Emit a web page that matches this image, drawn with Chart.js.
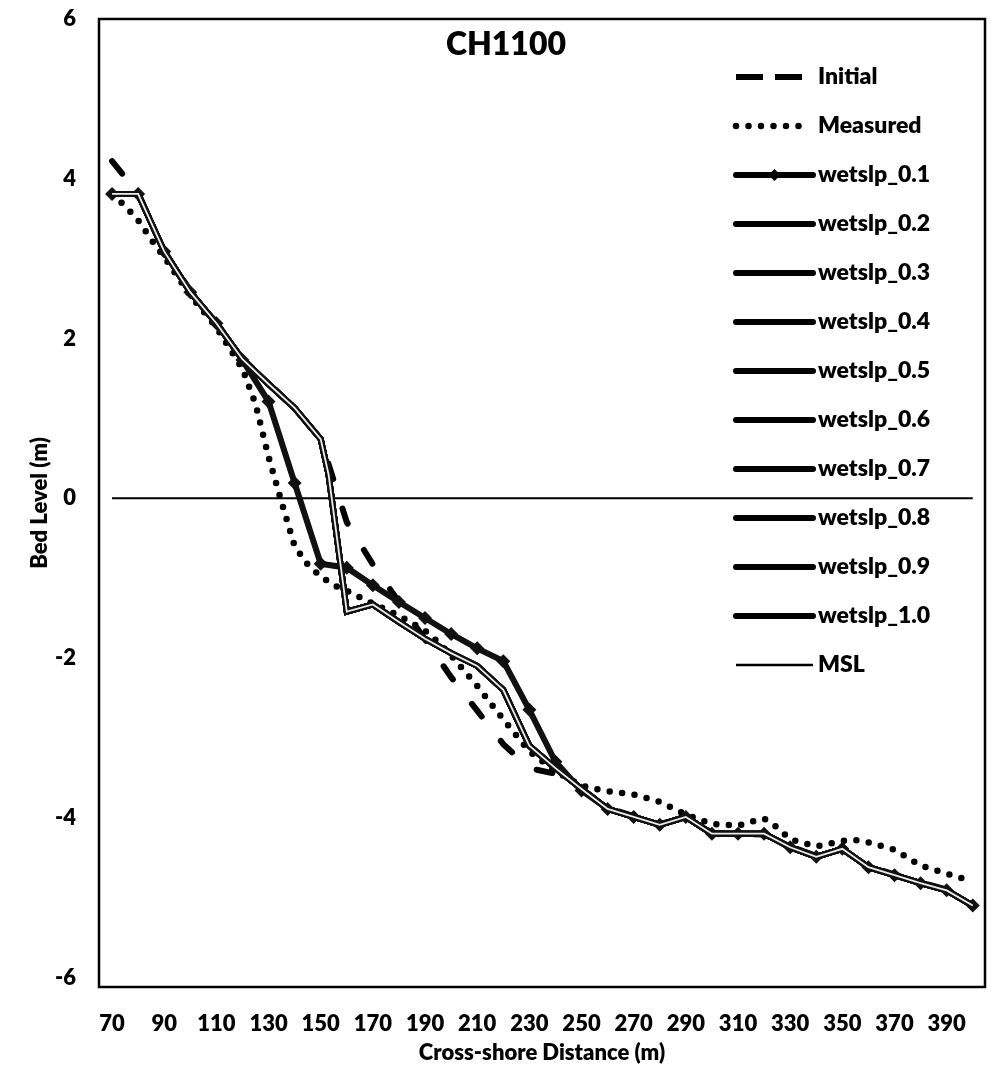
<!DOCTYPE html>
<html>
<head>
<meta charset="utf-8">
<title>CH1100</title>
<script src="https://cdn.jsdelivr.net/npm/chart.js@4.4.0/dist/chart.umd.min.js"></script>
<style>
  html, body { margin: 0; padding: 0; background: #ffffff; }
  #wrap { width: 997px; height: 1066px; }
</style>
</head>
<body>
<div id="wrap"><canvas id="profile" width="997" height="1066"></canvas></div>
<script>
// cross-shore distance (m) of the model output points
const distance = [70, 80, 90, 100, 110, 120, 130, 140, 150, 160, 170, 180, 190, 200, 210, 220, 230, 240,
  250, 260, 270, 280, 290, 300, 310, 320, 330, 340, 350, 360, 370, 380, 390, 400];

// bed levels (m)
const initialLevel = [4.22, 3.82, 3.10, 2.60, 2.20, 1.75, 1.44, 1.12, 0.74, -0.30, -0.83, -1.30, -1.77, -2.24,
  -2.66, -3.08, -3.38, -3.45, -3.64, -3.88, -3.98, -4.08, -4.00, -4.19, -4.20, -4.21, -4.36, -4.48, -4.40,
  -4.61, -4.71, -4.81, -4.90, -5.08];

const wetslp01 = [3.81, 3.81, 3.09, 2.58, 2.19, 1.73, 1.21, 0.19, -0.82, -0.87, -1.09, -1.30, -1.50, -1.70,
  -1.88, -2.04, -2.65, -3.30, -3.66, -3.89, -3.99, -4.09, -3.99, -4.20, -4.20, -4.20, -4.37, -4.49, -4.39,
  -4.62, -4.72, -4.82, -4.91, -5.10];

// wetslp_0.2 ... wetslp_1.0 lie on top of each other
const highX = [70, 80, 90, 100, 110, 120, 130, 140, 150, 153, 160, 170, 180, 190, 200, 210, 220, 230, 240,
  250, 260, 270, 280, 290, 300, 310, 320, 330, 340, 350, 360, 370, 380, 390, 400];
const wetslpHigh = [3.81, 3.81, 3.09, 2.58, 2.19, 1.74, 1.43, 1.13, 0.74, 0.30, -1.42, -1.33, -1.55, -1.76,
  -1.94, -2.10, -2.40, -3.10, -3.38, -3.64, -3.89, -3.99, -4.09, -3.99, -4.20, -4.20, -4.20, -4.37, -4.49,
  -4.39, -4.62, -4.72, -4.82, -4.91, -5.10];
const highNames = ['wetslp_0.2', 'wetslp_0.3', 'wetslp_0.4', 'wetslp_0.5', 'wetslp_0.6', 'wetslp_0.7',
  'wetslp_0.8', 'wetslp_0.9', 'wetslp_1.0'];

const measuredX = [70, 75, 80, 85, 90, 100, 110, 120, 125, 130, 135, 140, 145, 150, 155, 160, 170, 180, 190,
  195, 200, 210, 220, 230, 240, 250, 260, 270, 280, 290, 300, 310, 315, 320, 325, 330, 340, 350, 355, 360,
  370, 380, 390, 400];
const measuredLevel = [3.80, 3.66, 3.48, 3.24, 3.02, 2.54, 2.14, 1.62, 1.18, 0.52, -0.05, -0.60, -0.83, -0.98,
  -1.09, -1.16, -1.32, -1.47, -1.66, -1.80, -1.97, -2.35, -2.77, -3.17, -3.42, -3.60, -3.67, -3.71, -3.80,
  -3.96, -4.08, -4.10, -4.05, -4.01, -4.12, -4.27, -4.36, -4.29, -4.28, -4.31, -4.40, -4.60, -4.70, -4.80];

const mslX = [70, 400];
const mslLevel = [0, 0];

const xTicks = [70, 90, 110, 130, 150, 170, 190, 210, 230, 250, 270, 290, 310, 330, 350, 370, 390];
const yTicks = [-6, -4, -2, 0, 2, 4, 6];

const FONT = 'Lato';
const WEIGHT = '800';
const pts = (xs, ys) => xs.map((x, i) => ({ x: x, y: ys[i] }));

// datasets in legend order; "order" decides what is painted on top
const datasets = [
  { label: 'Initial', data: pts(distance, initialLevel), borderColor: '#000', borderWidth: 6,
    borderDash: [16, 31], borderCapStyle: 'round', pointRadius: 0, order: 5, kind: 'dash' },
  { label: 'Measured', data: pts(measuredX, measuredLevel), borderColor: '#000', borderWidth: 6.5,
    borderDash: [0, 12.5], borderCapStyle: 'round', pointRadius: 0, order: 4, kind: 'dot' },
  { label: 'wetslp_0.1', data: pts(distance, wetslp01), borderColor: '#111', borderWidth: 6,
    pointStyle: 'rectRot', pointRadius: 7, pointBackgroundColor: '#111', pointBorderWidth: 0,
    order: 3, kind: 'marker' }
];
highNames.forEach((name, i) => {
  const last = i === highNames.length - 1;
  datasets.push({
    label: name, data: pts(highX, wetslpHigh),
    borderColor: last ? '#eeeeee' : '#111', borderWidth: last ? 1.8 : 6,
    pointRadius: 0, order: last ? 1 : 2, kind: 'solid'
  });
});
datasets.push({ label: 'MSL', data: pts(mslX, mslLevel), borderColor: '#000', borderWidth: 2,
  pointRadius: 0, order: 6, kind: 'thin' });

// frame round the plot area and the title inside it
const framePlugin = {
  id: 'frame',
  beforeDatasetsDraw(chart) {
    const { ctx, chartArea: a } = chart;
    ctx.save();
    ctx.strokeStyle = '#000';
    ctx.lineWidth = 2.5;
    ctx.strokeRect(a.left, a.top, a.right - a.left, a.bottom - a.top);
    ctx.fillStyle = '#000';
    ctx.font = WEIGHT + ' 32px ' + FONT;
    ctx.textAlign = 'center';
    ctx.textBaseline = 'alphabetic';
    ctx.fillText('CH1100', 506, 55);
    ctx.restore();
  }
};

// legend drawn inside the plot, top right
const legendPlugin = {
  id: 'innerLegend',
  afterDatasetsDraw(chart) {
    const ctx = chart.ctx;
    const x0 = 736, x1 = 813, top = 77, step = 49;
    ctx.save();
    chart.data.datasets.forEach((ds, i) => {
      const y = top + i * step;
      ctx.strokeStyle = '#000';
      ctx.fillStyle = '#000';
      ctx.setLineDash([]);
      ctx.lineCap = 'round';
      ctx.lineWidth = 6;
      if (ds.kind === 'dash') {
        ctx.lineCap = 'butt';
        ctx.setLineDash([27, 12]);
      } else if (ds.kind === 'dot') {
        ctx.setLineDash([0, 12.5]);
        ctx.lineWidth = 6.5;
      } else if (ds.kind === 'thin') {
        ctx.lineWidth = 2.5;
        ctx.lineCap = 'butt';
      }
      ctx.beginPath();
      ctx.moveTo(x0, y);
      ctx.lineTo(ds.kind === 'dot' ? 800 : x1, y);
      ctx.stroke();
      if (ds.kind === 'marker') {
        const mx = (x0 + x1) / 2, r = 6;
        ctx.beginPath();
        ctx.moveTo(mx, y - r); ctx.lineTo(mx + r, y); ctx.lineTo(mx, y + r); ctx.lineTo(mx - r, y);
        ctx.closePath();
        ctx.fill();
      }
      ctx.font = WEIGHT + ' 23px ' + FONT;
      ctx.textAlign = 'left';
      ctx.textBaseline = 'middle';
      ctx.fillText(ds.label, x1 + 5, y);
    });
    ctx.restore();
  }
};

function draw() {
  new Chart(document.getElementById('profile'), {
    type: 'line',
    data: { datasets: datasets },
    options: {
      responsive: false,
      animation: false,
      layout: { padding: { top: 19, right: 12, left: 0, bottom: 0 } },
      elements: { line: { tension: 0, fill: false } },
      plugins: { legend: { display: false }, tooltip: { enabled: false } },
      scales: {
        x: {
          type: 'linear', min: 65, max: 404.7,
          afterBuildTicks: (s) => { s.ticks = xTicks.map(v => ({ value: v })); },
          afterFit: (s) => { s.height = 79; s.paddingLeft = 0; s.paddingRight = 0; },
          grid: { display: false, drawTicks: false },
          border: { display: false },
          ticks: { color: '#000', padding: 24, maxRotation: 0, autoSkip: false,
            font: { family: FONT, size: 22, weight: WEIGHT } },
          title: { display: true, text: 'Cross-shore Distance (m)', color: '#000',
            padding: { top: 0, bottom: 0 }, font: { family: FONT, size: 22, weight: WEIGHT } }
        },
        y: {
          type: 'linear', min: -6.12, max: 6,
          afterBuildTicks: (s) => { s.ticks = yTicks.map(v => ({ value: v })); },
          afterFit: (s) => { s.width = 99; s.paddingTop = 0; s.paddingBottom = 0; },
          grid: { display: false, drawTicks: false },
          border: { display: false },
          ticks: { color: '#000', padding: 23, font: { family: FONT, size: 22, weight: WEIGHT } },
          title: { display: true, text: 'Bed Level (m)', color: '#000',
            padding: { top: 27, bottom: 0 }, font: { family: FONT, size: 22, weight: WEIGHT } }
        }
      }
    },
    plugins: [framePlugin, legendPlugin]
  });
}

document.fonts.load(WEIGHT + ' 22px ' + FONT).then(draw, draw);
</script>
</body>
</html>
